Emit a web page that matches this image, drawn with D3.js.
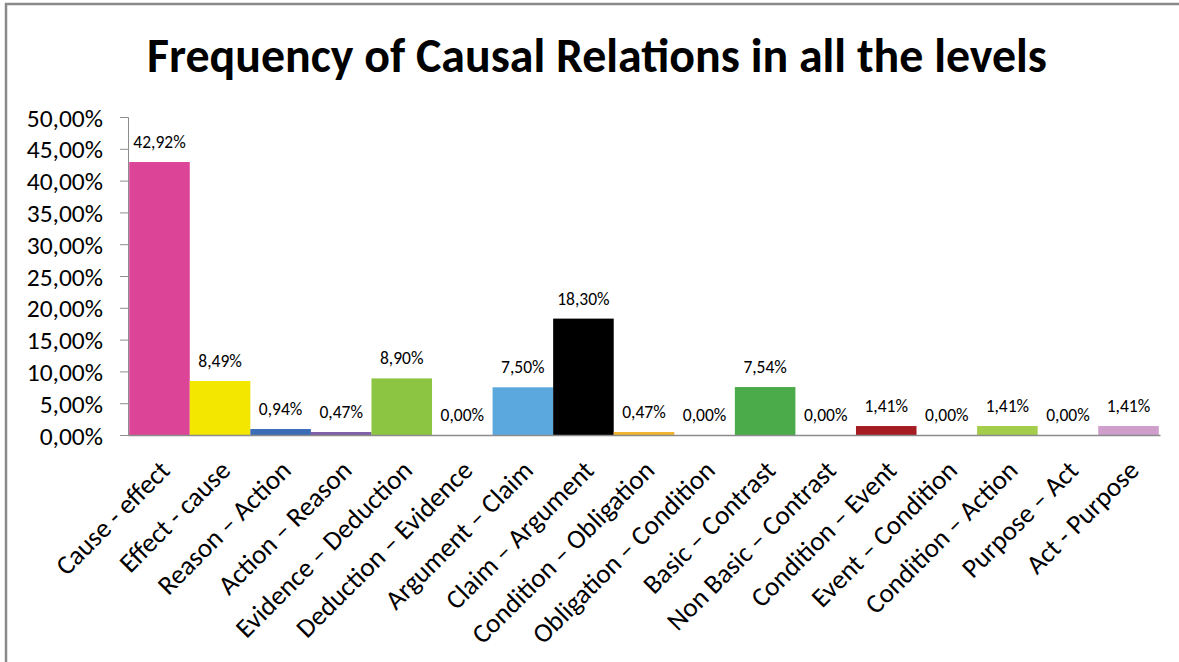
<!DOCTYPE html>
<html>
<head>
<meta charset="utf-8">
<script src="https://cdn.jsdelivr.net/npm/d3@7"></script>
<style>
  html, body { margin: 0; padding: 0; background: #fff; }
  svg { display: block; }
  text { font-family: Calibri, Carlito, Lato, "Open Sans", sans-serif; fill: #000; }
</style>
</head>
<body>
<svg id="chart" width="1179" height="662"></svg>
<script>
// Relation types along the x axis
const categories = [
  "Cause - effect", "Effect - cause", "Reason – Action", "Action – Reason",
  "Evidence – Deduction", "Deduction – Evidence", "Argument – Claim", "Claim – Argument",
  "Condition – Obligation", "Obligation – Condition", "Basic – Contrast", "Non Basic – Contrast",
  "Condition – Event", "Event – Condition", "Condition – Action", "Purpose – Act", "Act - Purpose"
];
// Share of each relation (fraction of all relations)
const values = [
  0.4292, 0.0849, 0.0094, 0.0047, 0.0890, 0.0000, 0.0750, 0.1830,
  0.0047, 0.0000, 0.0754, 0.0000, 0.0141, 0.0000, 0.0141, 0.0000, 0.0141
];
const barColors = [
  "#dc4498", "#f3e700", "#3b6cb6", "#7f5fa9", "#8bc541", "#8bc541", "#5aa8dd", "#000000",
  "#f0b531", "#f0b531", "#4bab4a", "#4bab4a", "#a51d23", "#a51d23", "#a3cd4b", "#a3cd4b", "#d09ecb"
];
const yTicks = [0, 0.05, 0.10, 0.15, 0.20, 0.25, 0.30, 0.35, 0.40, 0.45, 0.50];
const title = "Frequency of Causal Relations in all the levels";

const W = 1179, H = 662;
const margin = { left: 128, right: 19, top: 117, bottom: 227 };

const locale = d3.formatLocale({ decimal: ",", thousands: ".", grouping: [3], currency: ["", "€"] });
const pct = locale.format(".2%");

const svg = d3.select("#chart");

// Outer frame
svg.append("rect")
  .attr("x", 6).attr("y", 4).attr("width", W + 10).attr("height", H + 10)
  .attr("fill", "none").attr("stroke", "#8a8a8a").attr("stroke-width", 2.5);

// Title, sized to its box
const t = svg.append("text")
  .attr("x", 597).attr("y", 72)
  .attr("text-anchor", "middle")
  .attr("font-weight", "bold")
  .attr("font-size", 40)
  .text(title);
const tw = t.node().getComputedTextLength();
t.attr("font-size", 40 * 900 / tw);

const x = d3.scaleBand()
  .domain(categories)
  .range([margin.left, W - margin.right])
  .paddingInner(0)
  .paddingOuter(0.02);

const y = d3.scaleLinear()
  .domain([0, 0.5])
  .range([H - margin.bottom, margin.top]);

// Y axis
const yAxis = svg.append("g")
  .attr("transform", `translate(${margin.left},0)`)
  .call(d3.axisLeft(y).tickValues(yTicks).tickFormat(pct).tickSize(8).tickPadding(17));
yAxis.select(".domain").attr("stroke", "#8c8c8c");
yAxis.selectAll(".tick line").attr("stroke", "#8c8c8c");
yAxis.selectAll(".tick text")
  .attr("font-size", 25.5)
  .attr("font-family", "Calibri, Carlito, Lato, sans-serif")
  .attr("dy", "0.36em")
  .attr("fill", "#111");

// Bars
svg.append("g").selectAll("rect")
  .data(values)
  .join("rect")
  .attr("x", (d, i) => x(categories[i]))
  .attr("width", x.bandwidth())
  .attr("y", d => y(d))
  .attr("height", d => y(0) - y(d))
  .attr("fill", (d, i) => barColors[i]);

// Value labels
svg.append("g").selectAll("text")
  .data(values)
  .join("text")
  .attr("x", (d, i) => x(categories[i]) + x.bandwidth() / 2)
  .attr("y", d => y(d) - 14)
  .attr("text-anchor", "middle")
  .attr("font-size", 17.5)
  .attr("fill", "#111")
  .text(d => pct(d));

// X axis
const xAxis = svg.append("g")
  .attr("transform", `translate(0,${y(0)})`)
  .call(d3.axisBottom(x).tickSize(0).tickPadding(0));
xAxis.select(".domain").attr("stroke", "#8c8c8c").attr("stroke-width", 1.5);
xAxis.selectAll(".tick text")
  .attr("font-size", 27)
  .attr("font-family", "Calibri, Carlito, Lato, sans-serif")
  .attr("text-anchor", "end")
  .attr("dy", 0)
  .attr("transform", "translate(12,37) rotate(-45)");
</script>
</body>
</html>
